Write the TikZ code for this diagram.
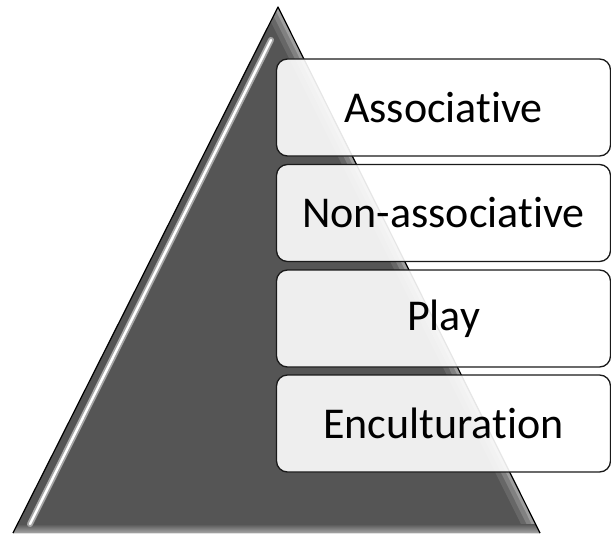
\documentclass[tikz,border=0pt]{standalone}
\usepackage{fontspec}
\setmainfont{Carlito}
\usetikzlibrary{shapes.geometric}
\definecolor{pyrgray}{HTML}{555555}
\definecolor{boxline}{HTML}{1A1A1A}
\newcommand{\nolig}{\kern0pt\relax}
\tikzset{
  levelbox/.style={draw=boxline, line width=1.3pt, rounded corners=11pt,
    fill=white, fill opacity=0.9, text opacity=1,
    minimum width=334pt, minimum height=97pt, inner sep=0pt,
    font=\fontsize{44}{52}\selectfont},
  pyredge/.style={draw=black, line width=1.2pt, line join=round},
}
\begin{document}
\begin{tikzpicture}[x=1pt,y=-1pt]
\useasboundingbox (0,0) rectangle (611,535);
% pyramid corners
\coordinate (apex) at (278,7);
\coordinate (bR) at (540,533);
\coordinate (bL) at (13,533);
\fill[pyrgray] (apex) -- (bR) -- (bL) -- cycle;
\begin{scope}
  \clip (apex) -- (bR) -- (bL) -- cycle;
  % lighter shading near right edge
  \draw[line width=26pt, gray!60, opacity=0.2] (apex) -- (bR);
  \draw[line width=16pt, gray!50, opacity=0.3] (apex) -- (bR);
  \draw[line width=7pt, gray!40, opacity=0.4] (apex) -- (bR);
  % bottom bevel
  \shade[top color=pyrgray, bottom color=gray!70] (0,524) rectangle (611,533);
  % left highlight
  \coordinate (h1) at (271,40);
  \coordinate (h2) at (30,524);
  \draw[line width=6pt, gray!70, line cap=round] (h1) -- (h2);
  \draw[line width=2.4pt, white, line cap=round] (h1) -- (h2);
\end{scope}
\draw[pyredge] (bL) -- (apex) -- (bR);
% levels
\node[levelbox] (assoc) at (443.5,107.5) {Associat\nolig ive};
\node[levelbox] (nonassoc) at (443.5,213) {Non-associat\nolig ive};
\node[levelbox] (play) at (443.5,318.5) {Play};
\node[levelbox] (encult) at (443.5,423.5) {Enculturat\nolig ion};
\end{tikzpicture}
\end{document}
